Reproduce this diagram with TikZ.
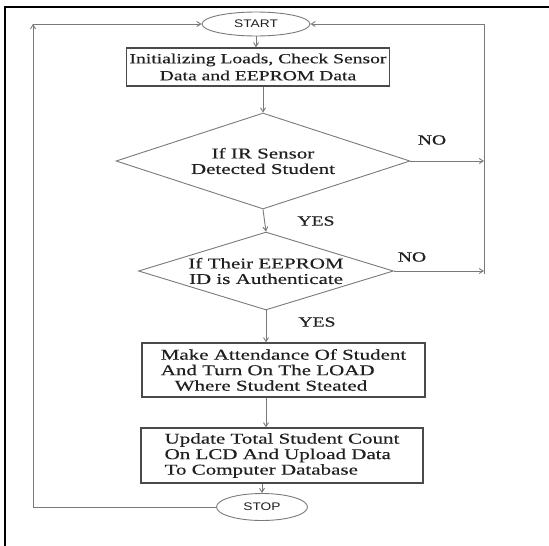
\documentclass[tikz,border=0pt]{standalone}
\usepackage{fontspec}
\setmainfont{Liberation Serif}[FakeStretch=1.4,FakeBold=0.4]
\newfontfamily\termfont{Liberation Sans}[FakeStretch=1.25]
\usetikzlibrary{shapes.geometric,arrows.meta}
\definecolor{flowline}{HTML}{7A7A7A}
\definecolor{boxline}{HTML}{4A4A4A}
\definecolor{ink}{HTML}{202020}

\begin{document}
\begin{tikzpicture}[x=1pt,y=-1pt,
  terminal/.style={ellipse,draw=flowline,line width=0.9pt,inner sep=0pt,
    font=\termfont\fontsize{11}{12}\selectfont,text=ink},
  process/.style={rectangle,draw=boxline,line width=1.3pt,inner sep=0pt,
    text=ink,font=\fontsize{15}{15.5}\selectfont},
  decision/.style={diamond,aspect=3,draw=flowline,line width=0.9pt,inner sep=0pt,
    align=center,text=ink,font=\fontsize{15}{15.5}\selectfont},
  flow/.style={draw=flowline,line width=0.9pt,-{Straight Barb[length=4pt,width=5pt]}},
  tag/.style={text=ink,font=\fontsize{14}{14}\selectfont}]

\useasboundingbox (0,0) rectangle (549,546);
\fill[white] (0,0) rectangle (549,546);

% page frame
\draw[line width=2.4pt,black] (549,7) -- (5,7) -- (5,546);

% flowchart blocks
\node[terminal,minimum width=108,minimum height=24] (start) at (256,24) {START};
\node[process,minimum width=263,minimum height=38,align=center,
      font=\fontsize{14}{17}\selectfont] (init) at (258,67)
      {Initializing Loads, Check Sensor\\Data and EEPROM Data};
\node[decision,minimum width=294,minimum height=96] (ir) at (263,161)
      {If IR Sensor\\Detected Student};
\node[decision,minimum width=255,minimum height=76] (auth) at (266,271)
      {If Their EEPROM\\ID is Authenticate};
\node[process,minimum width=283,minimum height=54,align=left] (mark) at (283.5,370)
      {Make Attendance Of Student\\And Turn On The LOAD\\\hspace*{14pt}Where Student Steated};
\node[process,minimum width=282,minimum height=55,align=left] (update) at (282,455.5)
      {Update Total Student Count\\On LCD And Upload Data\\To Computer Database};
\node[terminal,minimum width=91,minimum height=27] (stop) at (262,507) {STOP};

% loop rails
\coordinate (rtop) at (484,24);
\coordinate (rbot) at (484,274);
\coordinate (ltop) at (33,24);

% main flow
\draw[flow] (start.south) -- (start.south |- init.north);
\draw[flow] (init.south -| ir.north) -- (ir.north);
\draw[flow] (ir.south) -- (auth.north);
\draw[flow] (auth.south) -- (auth.south |- mark.north);
\draw[flow] (auth.south |- mark.south) -- (auth.south |- update.north);
\draw[flow] (stop.north |- update.south) -- (stop.north);

% NO branches back to START
\draw[flow] (ir.east) -- (ir.east -| rbot);
\draw[flow] (auth.east) -- (auth.east -| rbot);
\draw[flow] (rbot) -- (rtop) -- (start.east);

% return from STOP to START
\draw[flow] (stop.west) -- (stop.west -| ltop) -- (ltop);
\draw[flow] (ltop) -- (start.west);

% branch labels
\node[tag] (no1) at (432,140) {NO};
\node[tag] (no2) at (412,257) {NO};
\node[tag] (yes1) at (316,221) {YES};
\node[tag] (yes2) at (317,322) {YES};
\end{tikzpicture}
\end{document}
